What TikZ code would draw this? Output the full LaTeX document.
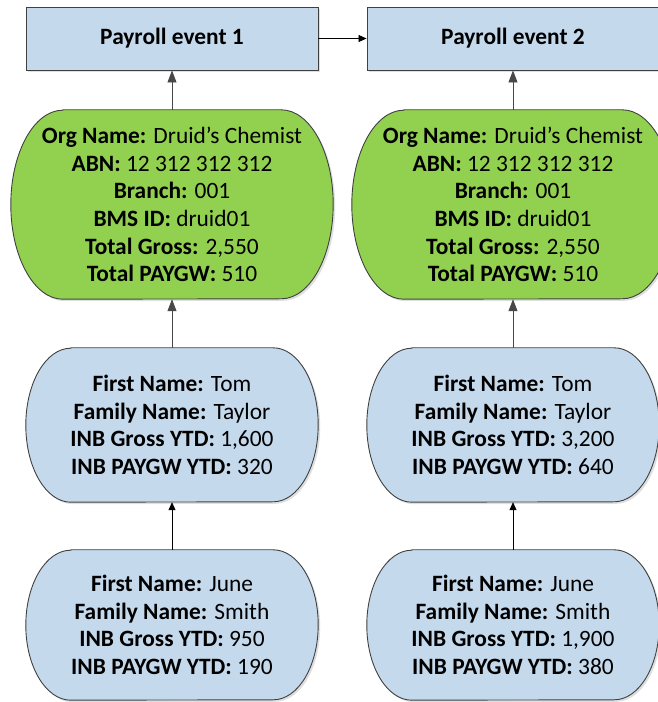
\documentclass[tikz,border=0pt]{standalone}
\usepackage{fontspec}
\setmainfont{Carlito}
\usetikzlibrary{arrows.meta,shadows,backgrounds}

\definecolor{eventblue}{RGB}{197,217,236}
\definecolor{orggreen}{RGB}{146,208,80}
\definecolor{edgegray}{RGB}{64,64,64}
\definecolor{tipgray}{RGB}{72,72,72}

\tikzset{
  base/.style={font=\fontsize{23.4}{27.6}\selectfont, align=center, inner sep=0pt, text=black},
  eventbox/.style={base, rectangle, draw=edgegray, line width=0.9pt, fill=eventblue,
    minimum width=292pt, minimum height=63pt,
    drop shadow={opacity=0.25, shadow xshift=2pt, shadow yshift=-2pt}},
  stadiumtext/.style={base, rectangle, minimum width=#1},
  outline/.style={draw=edgegray, line width=0.9pt,
    drop shadow={opacity=0.25, shadow xshift=2pt, shadow yshift=-2pt}},
  uparrow/.style={draw=tipgray, line width=0.8pt,
    -{Triangle[width=9pt,length=12pt,fill=tipgray]}},
  smallarrow/.style={draw=black, line width=0.8pt,
    -{Triangle[width=7pt,length=8pt]}},
}

% stadium outline around a node: #1 node, #2 end x radius, #3 half height, #4 fill
\newcommand{\stadiumpath}[4]{%
  \path[outline, fill=#4]
    ([xshift=#2]#1.north west) -- ([xshift=-#2]#1.north east)
    arc[start angle=90, end angle=-90, x radius=#2, y radius=#3]
    -- ([xshift=#2]#1.south west)
    arc[start angle=270, end angle=90, x radius=#2, y radius=#3] -- cycle;}

\begin{document}
\begin{tikzpicture}[x=1pt, y=1pt]
\useasboundingbox (0,0) rectangle (658,702);

% payroll events
\node[eventbox] (ev1) at (172,663.5) {\textbf{Payroll event 1}};
\node[eventbox] (ev2) at (513,663.5) {\textbf{Payroll event 2}};

% organisation summaries
\node[stadiumtext=322pt, minimum height=189pt] (org1) at (172,497.5)
  {\textbf{Org Name:} Druid's Chemist\\ \textbf{ABN:} 12 312 312 312\\ \textbf{Branch:} 001\\
   \textbf{BMS ID:} druid01\\ \textbf{Total Gross:} 2,550\\ \textbf{Total PAYGW:} 510};
\node[stadiumtext=322pt, minimum height=189pt] (org2) at (513,497.5)
  {\textbf{Org Name:} Druid's Chemist\\ \textbf{ABN:} 12 312 312 312\\ \textbf{Branch:} 001\\
   \textbf{BMS ID:} druid01\\ \textbf{Total Gross:} 2,550\\ \textbf{Total PAYGW:} 510};

% employees
\node[stadiumtext=292pt, minimum height=154pt] (tom1) at (172,277)
  {\textbf{First Name:} Tom\\ \textbf{Family Name:} Taylor\\ \textbf{INB Gross YTD:} 1,600\\ \textbf{INB PAYGW YTD:} 320};
\node[stadiumtext=292pt, minimum height=154pt] (tom2) at (513,277)
  {\textbf{First Name:} Tom\\ \textbf{Family Name:} Taylor\\ \textbf{INB Gross YTD:} 3,200\\ \textbf{INB PAYGW YTD:} 640};
\node[stadiumtext=292pt, minimum height=150pt] (june1) at (172,77)
  {\textbf{First Name:} June\\ \textbf{Family Name:} Smith\\ \textbf{INB Gross YTD:} 950\\ \textbf{INB PAYGW YTD:} 190};
\node[stadiumtext=292pt, minimum height=150pt] (june2) at (513,77)
  {\textbf{First Name:} June\\ \textbf{Family Name:} Smith\\ \textbf{INB Gross YTD:} 1,900\\ \textbf{INB PAYGW YTD:} 380};

\begin{pgfonlayer}{background}
  \stadiumpath{org1}{52pt}{94.5pt}{orggreen}
  \stadiumpath{org2}{52pt}{94.5pt}{orggreen}
  \stadiumpath{tom1}{45pt}{77pt}{eventblue}
  \stadiumpath{tom2}{45pt}{77pt}{eventblue}
  \stadiumpath{june1}{45pt}{75pt}{eventblue}
  \stadiumpath{june2}{45pt}{75pt}{eventblue}
\end{pgfonlayer}

% connectors
\draw[smallarrow] (ev1) -- (ev2);
\draw[uparrow] (org1) -- (ev1);
\draw[uparrow] (org2) -- (ev2);
\draw[uparrow] (tom1) -- (org1);
\draw[uparrow] (tom2) -- (org2);
\draw[smallarrow] (june1) -- (tom1);
\draw[smallarrow] (june2) -- (tom2);
\end{tikzpicture}
\end{document}
